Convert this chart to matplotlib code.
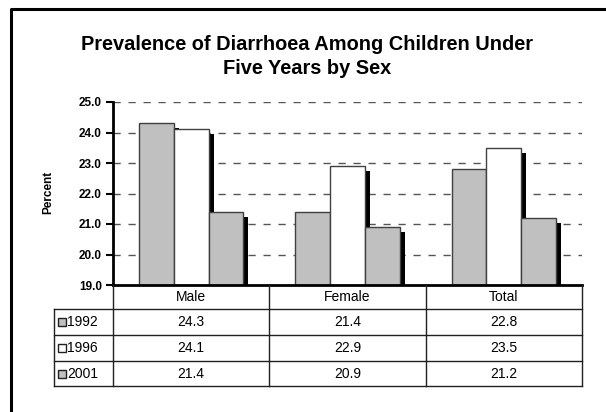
import numpy as np
import matplotlib
matplotlib.use('Agg')
from matplotlib import pyplot as plt
import matplotlib.patches as patches
import matplotlib.transforms as transforms
from matplotlib.lines import Line2D

plt.rcParams['font.family'] = ['Liberation Sans', 'DejaVu Sans']

# data
categories = ['Male', 'Female', 'Total']
years = ['1992', '1996', '2001']
values = {
    '1992': [24.3, 21.4, 22.8],
    '1996': [24.1, 22.9, 23.5],
    '2001': [21.4, 20.9, 21.2],
}
colors = {'1992': '#c0c0c0', '1996': '#ffffff', '2001': '#c0c0c0'}
yticks = [19.0, 20.0, 21.0, 22.0, 23.0, 24.0, 25.0]
title_lines = ['Prevalence of Diarrhoea Among Children Under', 'Five Years by Sex']

W, H = 606, 412
fig = plt.figure(figsize=(W / 100, H / 100), dpi=100)

def px_box(x0, y0, x1, y1):
    # pixel box (top-left origin) -> figure fraction rect
    return [x0 / W, 1 - y1 / H, (x1 - x0) / W, (y1 - y0) / H]

# main plot
ax = fig.add_axes(px_box(113, 102, 582, 285))
x = np.arange(len(categories))
bw = 1 / 4.5
shadow = ax.transData + transforms.ScaledTranslation(5 / 100, -5 / 100, fig.dpi_scale_trans)
for i, yr in enumerate(years):
    xs = x + (i - 1) * bw
    ax.bar(xs, np.array(values[yr]) - 19, bw, bottom=19, color='black',
           transform=shadow, zorder=1, linewidth=0)
for i, yr in enumerate(years):
    xs = x + (i - 1) * bw
    ax.bar(xs, np.array(values[yr]) - 19, bw, bottom=19, color=colors[yr],
           edgecolor='#404040', linewidth=1, zorder=2)

ax.set_xlim(-0.5, 2.5)
ax.set_ylim(19, 25)
ax.set_yticks(yticks)
ax.set_yticklabels(['%.1f' % t for t in yticks], fontweight='bold', fontsize=8.5)
for t in yticks[1:]:
    gl = ax.axhline(t, color='#555555', linewidth=1, zorder=0)
    gl.set_dashes((5.2, 5.6))
    gl.set_dash_capstyle('butt')
ax.set_xticks([])
ax.spines['top'].set_visible(False)
ax.spines['right'].set_visible(False)
ax.spines['left'].set_linewidth(2)
ax.spines['bottom'].set_linewidth(2)
ax.spines['bottom'].set_zorder(3)
ax.tick_params(axis='y', length=5, width=1.5, pad=3)

# data table
tab = fig.add_axes(px_box(113, 285, 582, 386))
tab.set_xlim(-0.5, 2.5)
tab.set_ylim(101, 0)
tab.axis('off')
xl = -0.5 - 59 / 156.33
rows = [24, 50, 76, 101]
lc = '#202020'
for r in rows:
    tab.plot([xl, 2.5], [r, r], color=lc, linewidth=1, clip_on=False)
for c in [-0.5, 0.5, 1.5, 2.5]:
    tab.plot([c, c], [0, 101], color=lc, linewidth=1, clip_on=False)
tab.plot([xl, xl], [24, 101], color=lc, linewidth=1, clip_on=False)
for j, cat in enumerate(categories):
    tab.text(j, 12, cat, ha='center', va='center', fontsize=10)
for i, yr in enumerate(years):
    yc = (rows[i] + rows[i + 1]) / 2
    for j in range(len(categories)):
        tab.text(j, yc, '%.1f' % values[yr][j], ha='center', va='center', fontsize=10)
    tab.add_patch(patches.Rectangle((xl + 4 / 156.33, yc - 4), 8 / 156.33, 8,
                                    facecolor=colors[yr], edgecolor='#202020',
                                    linewidth=1, clip_on=False))
    tab.text(xl + 13 / 156.33, yc, yr, ha='left', va='center', fontsize=10)

# titles
for k, line in enumerate(title_lines):
    fig.text(307 / W, 1 - (44 + 24 * k) / H, line, ha='center', va='center',
             fontsize=14.4, fontweight='bold')
fig.text(48 / W, 1 - 192 / H, 'Percent', ha='center', va='center',
         rotation=90, fontsize=8.5, fontweight='bold')

# outer frame (left and top only, rest cropped)
fig.add_artist(Line2D([11 / W, 11 / W, 1], [0, 1 - 9 / H, 1 - 9 / H],
                      transform=fig.transFigure, color='black', linewidth=2.2))

fig.savefig('out.png', dpi=100)
